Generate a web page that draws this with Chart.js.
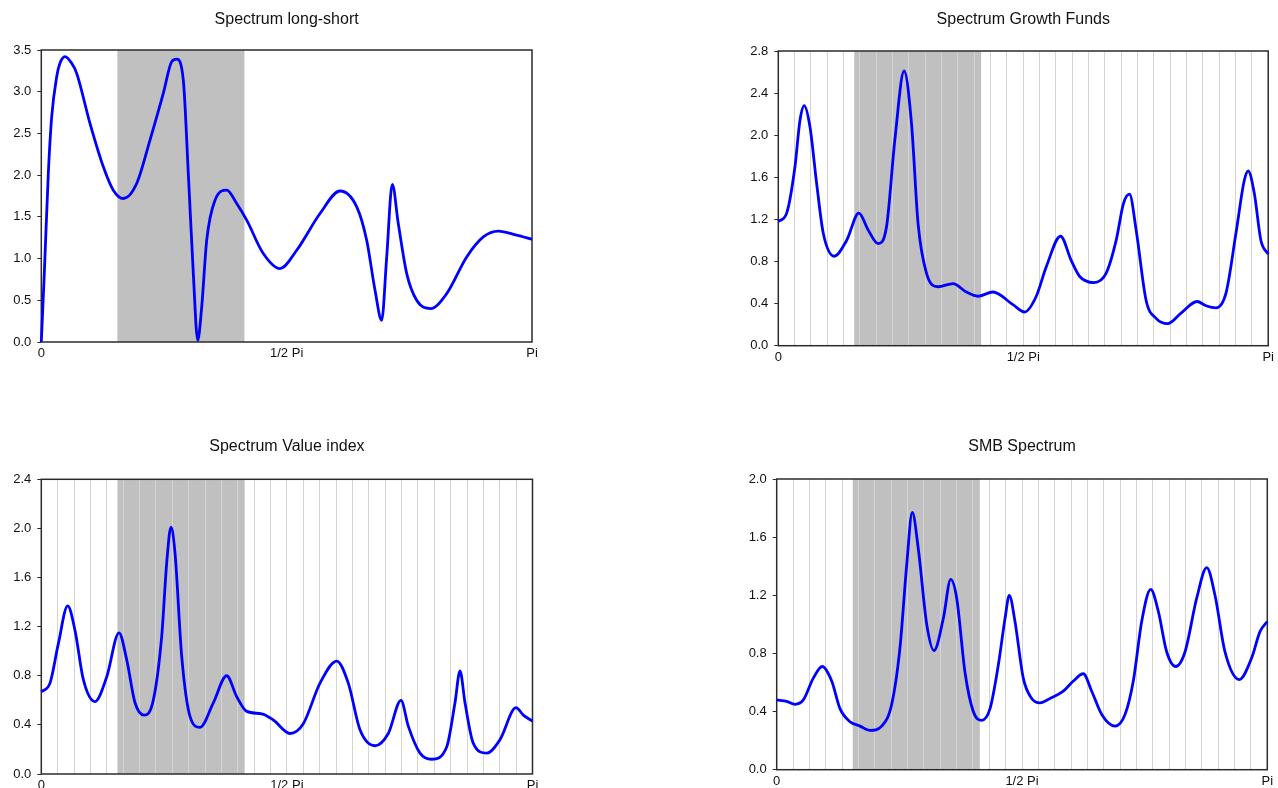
<!DOCTYPE html>
<html>
<head>
<meta charset="utf-8">
<script src="https://cdn.jsdelivr.net/npm/chart.js@4.4.1/dist/chart.umd.min.js"></script>
<style>
html,body{margin:0;padding:0;background:#fff;}
#wrap{position:relative;width:1278px;height:788px;overflow:hidden;background:#fff;}
canvas{position:absolute;}
</style>
</head>
<body>
<div id="wrap">
<canvas id="c1" width="639" height="394" style="left:0px;top:0px"></canvas>
<canvas id="c2" width="639" height="394" style="left:639px;top:0px"></canvas>
<canvas id="c3" width="639" height="394" style="left:0px;top:394px"></canvas>
<canvas id="c4" width="639" height="394" style="left:639px;top:394px"></canvas>
</div>
<script>
// ---- data (frequency as a fraction of Pi) ----
const titles = ['Spectrum long-short', 'Spectrum Growth Funds', 'Spectrum Value index', 'SMB Spectrum'];
const xTickValues = [0, 0.5, 1];
const xTickLabels = ['0', '1/2 Pi', 'Pi'];
const yMaxes = [3.5, 2.8, 2.4, 2.0];
const ySteps = [0.5, 0.4, 0.4, 0.4];
const shadeBand = [0.155, 0.414];
const gridDivisions = 30;

const p1X = [0, 0.0061, 0.0143, 0.0212, 0.0314, 0.0380, 0.0483, 0.0620, 0.0721, 0.0992, 0.1264, 0.1467, 0.1671, 0.1944, 0.2215, 0.2486, 0.2657, 0.2759, 0.2894, 0.2996, 0.3098, 0.3187, 0.3269, 0.3371, 0.3540, 0.3778, 0.3982, 0.4186, 0.4524, 0.4864, 0.5205, 0.5680, 0.6088, 0.6428, 0.6631, 0.6801, 0.6937, 0.7039, 0.7153, 0.7275, 0.7447, 0.7650, 0.7936, 0.8262, 0.8669, 0.9008, 0.9313, 0.9688, 1.0];
const p1Y = [0.00, 0.82, 2.02, 2.70, 3.18, 3.34, 3.42, 3.34, 3.22, 2.62, 2.10, 1.82, 1.72, 1.90, 2.42, 2.98, 3.36, 3.39, 3.14, 2.02, 0.82, 0.02, 0.42, 1.22, 1.70, 1.82, 1.66, 1.46, 1.06, 0.88, 1.10, 1.54, 1.81, 1.62, 1.22, 0.62, 0.26, 1.02, 1.89, 1.42, 0.82, 0.50, 0.40, 0.58, 1.02, 1.26, 1.33, 1.28, 1.23];

const p2X = [0, 0.0171, 0.0340, 0.0442, 0.0530, 0.0646, 0.0783, 0.0917, 0.1141, 0.1394, 0.1645, 0.1834, 0.2038, 0.2209, 0.2378, 0.2568, 0.2719, 0.2853, 0.3024, 0.3261, 0.3566, 0.3839, 0.4076, 0.4381, 0.4789, 0.5028, 0.5266, 0.5470, 0.5761, 0.5979, 0.6148, 0.6440, 0.6693, 0.6896, 0.7045, 0.7168, 0.7304, 0.7508, 0.7711, 0.7948, 0.8221, 0.8547, 0.8730, 0.8934, 0.9138, 0.9342, 0.9511, 0.9592, 0.9715, 0.9851, 1.0];
const p2Y = [1.18, 1.26, 1.70, 2.14, 2.28, 2.08, 1.54, 1.07, 0.85, 1.00, 1.26, 1.10, 0.97, 1.13, 1.95, 2.61, 2.11, 1.16, 0.69, 0.56, 0.59, 0.51, 0.47, 0.51, 0.39, 0.32, 0.47, 0.75, 1.04, 0.81, 0.66, 0.60, 0.69, 1.00, 1.35, 1.44, 1.10, 0.43, 0.26, 0.21, 0.31, 0.42, 0.38, 0.36, 0.50, 1.07, 1.57, 1.66, 1.45, 1.00, 0.87];

const p3X = [0, 0.0177, 0.0346, 0.0537, 0.0686, 0.0855, 0.1093, 0.1331, 0.1582, 0.1739, 0.1908, 0.2091, 0.2280, 0.2451, 0.2553, 0.2640, 0.2722, 0.2858, 0.3027, 0.3231, 0.3502, 0.3774, 0.3978, 0.4182, 0.4487, 0.4723, 0.5063, 0.5334, 0.5674, 0.6014, 0.6250, 0.6488, 0.6794, 0.7064, 0.7323, 0.7471, 0.7710, 0.7948, 0.8253, 0.8422, 0.8524, 0.8626, 0.8795, 0.9068, 0.9338, 0.9664, 0.9813, 1.0];
const p3Y = [0.67, 0.74, 1.06, 1.37, 1.17, 0.77, 0.59, 0.79, 1.15, 0.93, 0.58, 0.48, 0.60, 1.12, 1.72, 2.01, 1.80, 0.96, 0.47, 0.38, 0.58, 0.80, 0.63, 0.51, 0.49, 0.44, 0.33, 0.41, 0.74, 0.92, 0.74, 0.36, 0.23, 0.33, 0.60, 0.39, 0.17, 0.12, 0.22, 0.58, 0.84, 0.58, 0.25, 0.17, 0.28, 0.54, 0.48, 0.43];

const p4X = [0, 0.0204, 0.0373, 0.0542, 0.0746, 0.0929, 0.1121, 0.1290, 0.1494, 0.1698, 0.1902, 0.2140, 0.2344, 0.2513, 0.2650, 0.2764, 0.2886, 0.3058, 0.3206, 0.3396, 0.3547, 0.3669, 0.3838, 0.4007, 0.4179, 0.4348, 0.4517, 0.4654, 0.4741, 0.4857, 0.5026, 0.5198, 0.5367, 0.5571, 0.5842, 0.6046, 0.6249, 0.6421, 0.6625, 0.6896, 0.7100, 0.7269, 0.7440, 0.7623, 0.7778, 0.7950, 0.8133, 0.8322, 0.8561, 0.8765, 0.8934, 0.9138, 0.9429, 0.9682, 0.9851, 1.0];
const p4Y = [0.48, 0.47, 0.45, 0.48, 0.63, 0.71, 0.61, 0.42, 0.33, 0.30, 0.27, 0.30, 0.45, 0.84, 1.41, 1.77, 1.52, 1.00, 0.82, 1.04, 1.31, 1.18, 0.67, 0.40, 0.34, 0.42, 0.72, 1.04, 1.20, 1.02, 0.63, 0.49, 0.46, 0.49, 0.54, 0.61, 0.66, 0.54, 0.38, 0.30, 0.38, 0.61, 1.02, 1.24, 1.09, 0.81, 0.71, 0.81, 1.18, 1.39, 1.20, 0.81, 0.62, 0.77, 0.95, 1.02];

// ---- layout (canvas placement and plot rectangle, in page pixels) ----
const FONT = "'Liberation Sans', Arial, Helvetica, sans-serif";
const TITLE_SIZE = 16, TICK_SIZE = 13;
const panels = [
  {id:'c1', left:0,   top:0,   w:639, h:394, plot:[41.3, 50, 532, 342],     titleY:20,  xs:p1X, ys:p1Y, grid:false},
  {id:'c2', left:639, top:0,   w:639, h:394, plot:[778.3, 51, 1269, 345.7], titleY:20,  xs:p2X, ys:p2Y, grid:true},
  {id:'c3', left:0,   top:394, w:639, h:394, plot:[41.3, 479.3, 532.5, 774],titleY:447, xs:p3X, ys:p3Y, grid:true},
  {id:'c4', left:639, top:394, w:639, h:394, plot:[776.7, 479, 1267.3, 769.7],titleY:447,xs:p4X, ys:p4Y, grid:true}
];

const decorPlugin = {
  id: 'decor',
  beforeDraw(chart) {
    const {ctx, chartArea: a} = chart;
    const xs = chart.scales.x;
    const x0 = xs.getPixelForValue(shadeBand[0]);
    const x1 = xs.getPixelForValue(shadeBand[1]);
    ctx.save();
    ctx.fillStyle = '#c0c0c0';
    ctx.fillRect(x0, a.top, x1 - x0, a.bottom - a.top);
    ctx.restore();
  },
  beforeDatasetsDraw(chart) {
    const {ctx, chartArea: a} = chart;
    ctx.save();
    ctx.strokeStyle = '#2b2b2b';
    ctx.lineWidth = 1.5;
    ctx.strokeRect(a.left, a.top, a.right - a.left, a.bottom - a.top);
    ctx.restore();
  }
};

function labelFor(v) {
  for (let i = 0; i < xTickValues.length; i++) {
    if (Math.abs(xTickValues[i] - v) < 1e-9) return xTickLabels[i];
  }
  return '';
}

panels.forEach((p, i) => {
  const [l, t, r, b] = p.plot;
  const lh = TITLE_SIZE * 1.2;
  const titleTop = p.titleY - p.top - lh / 2;
  const titleBottomPad = (t - p.top) - (titleTop + lh);
  const tickVals = [];
  if (p.grid) { for (let k = 0; k <= gridDivisions; k++) tickVals.push(k / gridDivisions); }
  else { xTickValues.forEach(v => tickVals.push(v)); }
  const pts = p.xs.map((x, k) => ({x: x, y: p.ys[k]}));
  new Chart(document.getElementById(p.id), {
    type: 'line',
    data: { datasets: [{
      data: pts, borderColor: '#0000ff', borderWidth: 2.8, pointRadius: 0,
      cubicInterpolationMode: 'monotone', fill: false, clip: 3
    }]},
    options: {
      responsive: false, animation: false, devicePixelRatio: 1,
      layout: { padding: { left: 0, right: (p.left + p.w) - r, top: 0, bottom: 0 } },
      plugins: {
        legend: { display: false }, tooltip: { enabled: false },
        title: { display: true, fullSize: false, text: titles[i], color: '#111',
          font: { family: FONT, size: TITLE_SIZE, weight: 'normal', lineHeight: 1.2 },
          padding: { top: titleTop, bottom: titleBottomPad } }
      },
      scales: {
        x: {
          type: 'linear', min: 0, max: 1, position: 'bottom',
          afterBuildTicks: s => { s.ticks = tickVals.map(v => ({value: v})); },
          afterFit: s => { s.height = (p.top + p.h) - b; },
          ticks: { autoSkip: false, maxRotation: 0, minRotation: 0, padding: 4,
            color: '#111', font: { family: FONT, size: TICK_SIZE },
            callback: v => labelFor(v) },
          grid: { display: p.grid, drawTicks: false, drawOnChartArea: true, lineWidth: 1,
            color: c => (c.tick && (c.tick.value <= 1e-9 || c.tick.value >= 1 - 1e-9)) ? 'rgba(0,0,0,0)' : '#d4d4d4' },
          border: { display: false }
        },
        y: {
          type: 'linear', min: 0, max: yMaxes[i],
          afterFit: s => { s.width = l - p.left; },
          ticks: { stepSize: ySteps[i], padding: 6, color: '#111',
            font: { family: FONT, size: TICK_SIZE }, callback: v => Number(v).toFixed(1) },
          grid: { drawOnChartArea: false, drawTicks: true, tickLength: 4, color: '#2b2b2b', lineWidth: 1 },
          border: { display: false }
        }
      }
    },
    plugins: [decorPlugin]
  });
});
</script>
</body>
</html>
